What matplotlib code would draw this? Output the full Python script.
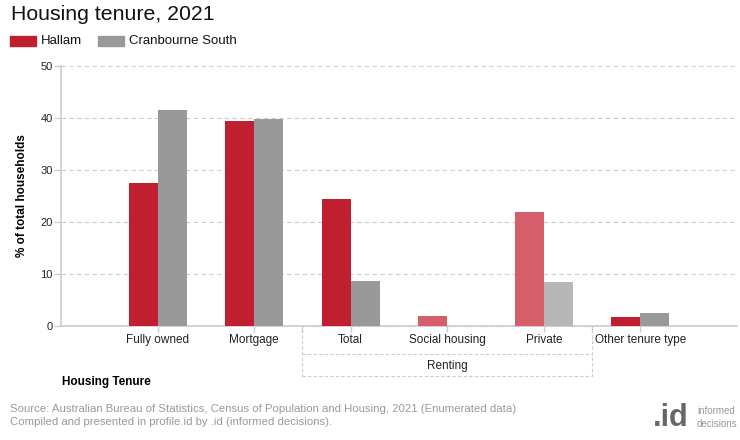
import matplotlib
matplotlib.use("Agg")
import matplotlib.pyplot as plt
import numpy as np
from matplotlib.patches import Rectangle

plt.rcParams['font.family'] = ['Liberation Sans', 'DejaVu Sans']

categories = ["Fully owned", "Mortgage", "Total", "Social housing", "Private", "Other tenure type"]
hallam = [27.5, 39.4, 24.4, 1.9, 21.9, 1.8]
cranbourne_south = [41.5, 39.8, 8.7, 0.0, 8.5, 2.5]
# subcategories of "Renting" are drawn lighter
sub_category = [False, False, False, True, True, False]

red, red_light = "#c01f2f", "#d45f6b"
grey, grey_light = "#999999", "#b7b7b7"

fig = plt.figure(figsize=(7.4, 4.4), dpi=100)
ax = fig.add_axes([61 / 740, 1 - 326 / 440, 676 / 740, 260 / 440])

x = np.arange(len(categories))
w = 0.3
ax.bar(x - w / 2, hallam, w, color=[red_light if s else red for s in sub_category], zorder=3)
ax.bar(x + w / 2, cranbourne_south, w, color=[grey_light if s else grey for s in sub_category], zorder=3)

ax.set_xlim(-1, 6)
ax.set_ylim(0, 50)
ax.set_yticks(range(0, 51, 10))
ax.yaxis.grid(True, ls=(0, (4, 3)), color="#cccccc", lw=0.8, zorder=0)
for s in ["top", "right"]:
    ax.spines[s].set_visible(False)
for s in ["left", "bottom"]:
    ax.spines[s].set_color("#cccccc")
    ax.spines[s].set_linewidth(1.2)
ax.tick_params(axis="y", colors="#cccccc", labelcolor="#222222", labelsize=8, length=5, width=1, pad=1)
ax.tick_params(axis="x", colors="#cccccc", labelcolor="#222222", labelsize=8.5, length=4, width=1, pad=2)
ax.set_xticks(list(x) + [1.5, 4.5])
ax.set_xticklabels(categories + ["", ""])

ax.set_ylabel("% of total households", fontsize=8.5, fontweight="bold", labelpad=9)

# Renting group box under the axis
xt = ax.get_xaxis_transform()
ax.add_patch(Rectangle((1.5, -0.192), 3, 0.192, transform=xt, fill=False,
                       ls=(0, (3, 2)), ec="#cccccc", lw=0.8, clip_on=False))
ax.plot([1.5, 4.5], [-0.108, -0.108], transform=xt, ls=(0, (3, 2)),
        color="#cccccc", lw=0.8, clip_on=False)
ax.text(3, -0.152, "Renting", transform=xt, ha="center", va="center",
        fontsize=8.5, color="#222222")

fig.text(62 / 740, 1 - 382 / 440, "Housing Tenure", fontsize=8.5, fontweight="bold", va="center")

fig.text(11 / 740, 1 - 14 / 440, "Housing tenure, 2021", fontsize=15.3, va="center", color="#111111")
fig.patches.append(Rectangle((10 / 740, 1 - 46 / 440), 26 / 740, 10 / 440, transform=fig.transFigure,
                             color=red))
fig.text(41 / 740, 1 - 41 / 440, "Hallam", fontsize=9.5, va="center", color="#111111")
fig.patches.append(Rectangle((98 / 740, 1 - 46 / 440), 26 / 740, 10 / 440, transform=fig.transFigure,
                             color=grey))
fig.text(129 / 740, 1 - 41 / 440, "Cranbourne South", fontsize=9.5, va="center", color="#111111")

fig.text(10 / 740, 1 - 409 / 440, "Source: Australian Bureau of Statistics, Census of Population and Housing, 2021 (Enumerated data)",
         fontsize=8.2, color="#999999", va="center")
fig.text(10 / 740, 1 - 422 / 440, "Compiled and presented in profile.id by .id (informed decisions).",
         fontsize=8.2, color="#999999", va="center")
fig.text(689 / 740, 1 - 418 / 440, ".id", fontsize=22, fontweight="bold", color="#666666", ha="right", va="center")
fig.text(697 / 740, 1 - 411 / 440, "informed", fontsize=7, color="#999999", va="center")
fig.text(697 / 740, 1 - 424 / 440, "decisions", fontsize=7, color="#999999", va="center")

fig.savefig("out.png", dpi=100)
